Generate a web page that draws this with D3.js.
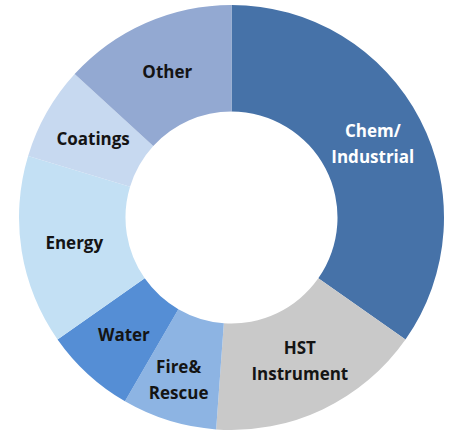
<!DOCTYPE html>
<html>
<head>
<meta charset="utf-8">
<script src="https://cdn.jsdelivr.net/npm/d3@7"></script>
<style>
  body { margin: 0; background: #fff; }
  svg { display: block; }
</style>
</head>
<body>
<svg id="chart"></svg>
<script>
// segment data, clockwise from 12 o'clock (percent share)
const categories = ['Chem/Industrial', 'HST Instrument', 'Fire&Rescue', 'Water', 'Energy', 'Coatings', 'Other']
const labelLines = [['Chem/', 'Industrial'], ['HST', 'Instrument'], ['Fire&', 'Rescue'], ['Water'], ['Energy'], ['Coatings'], ['Other']]
const shares = [34.7, 16.4, 7.2, 6.9, 14.4, 7.1, 13.2]
const colors = ['#4672a8', '#c9c9c9', '#8db4e3', '#558ed5', '#c3e0f4', '#c7d9f0', '#93a9d2']

const width = 451
const height = 432
const cx = 231.5
const cy = 217.5
const outerR = 212.5
const innerR = 106

const svg = d3
  .select('#chart')
  .attr('width', width)
  .attr('height', height)

const g = svg.append('g').attr('transform', 'translate(' + cx + ',' + cy + ')')

const data = categories.map((c, i) => ({ name: c, value: shares[i], lines: labelLines[i], color: colors[i] }))

const pie = d3.pie().sort(null).value(d => d.value)
const arc = d3.arc().innerRadius(innerR).outerRadius(outerR)

const arcs = pie(data)

g.selectAll('path')
  .data(arcs)
  .enter()
  .append('path')
  .attr('d', arc)
  .attr('fill', d => d.data.color)

/// labels ////////////////////////////////
const lineH = 26
// Fire&Rescue label sits a little lower/left than its centroid in the original
const nudge = { 'Fire&Rescue': [-6, 10] }

const labels = g
  .selectAll('.slice-label')
  .data(arcs)
  .enter()
  .append('text')
  .attr('class', 'slice-label')
  .attr('text-anchor', 'middle')
  .attr('font-family', 'Open Sans')
  .attr('font-weight', 'bold')
  .attr('font-size', 17)
  .attr('fill', d => (d.data.name === 'Chem/Industrial' ? '#ffffff' : '#141414'))
  .attr('transform', d => {
    const c = arc.centroid(d)
    const n = nudge[d.data.name] || [0, 0]
    return 'translate(' + (c[0] + n[0]) + ',' + (c[1] + n[1]) + ')'
  })

labels
  .selectAll('tspan')
  .data(d => d.data.lines.map((t, i, arr) => ({ t, i, n: arr.length })))
  .enter()
  .append('tspan')
  .attr('x', 0)
  .attr('y', d => (d.i - (d.n - 1) / 2) * lineH)
  .attr('dy', '0.35em')
  .text(d => d.t)
</script>
</body>
</html>
